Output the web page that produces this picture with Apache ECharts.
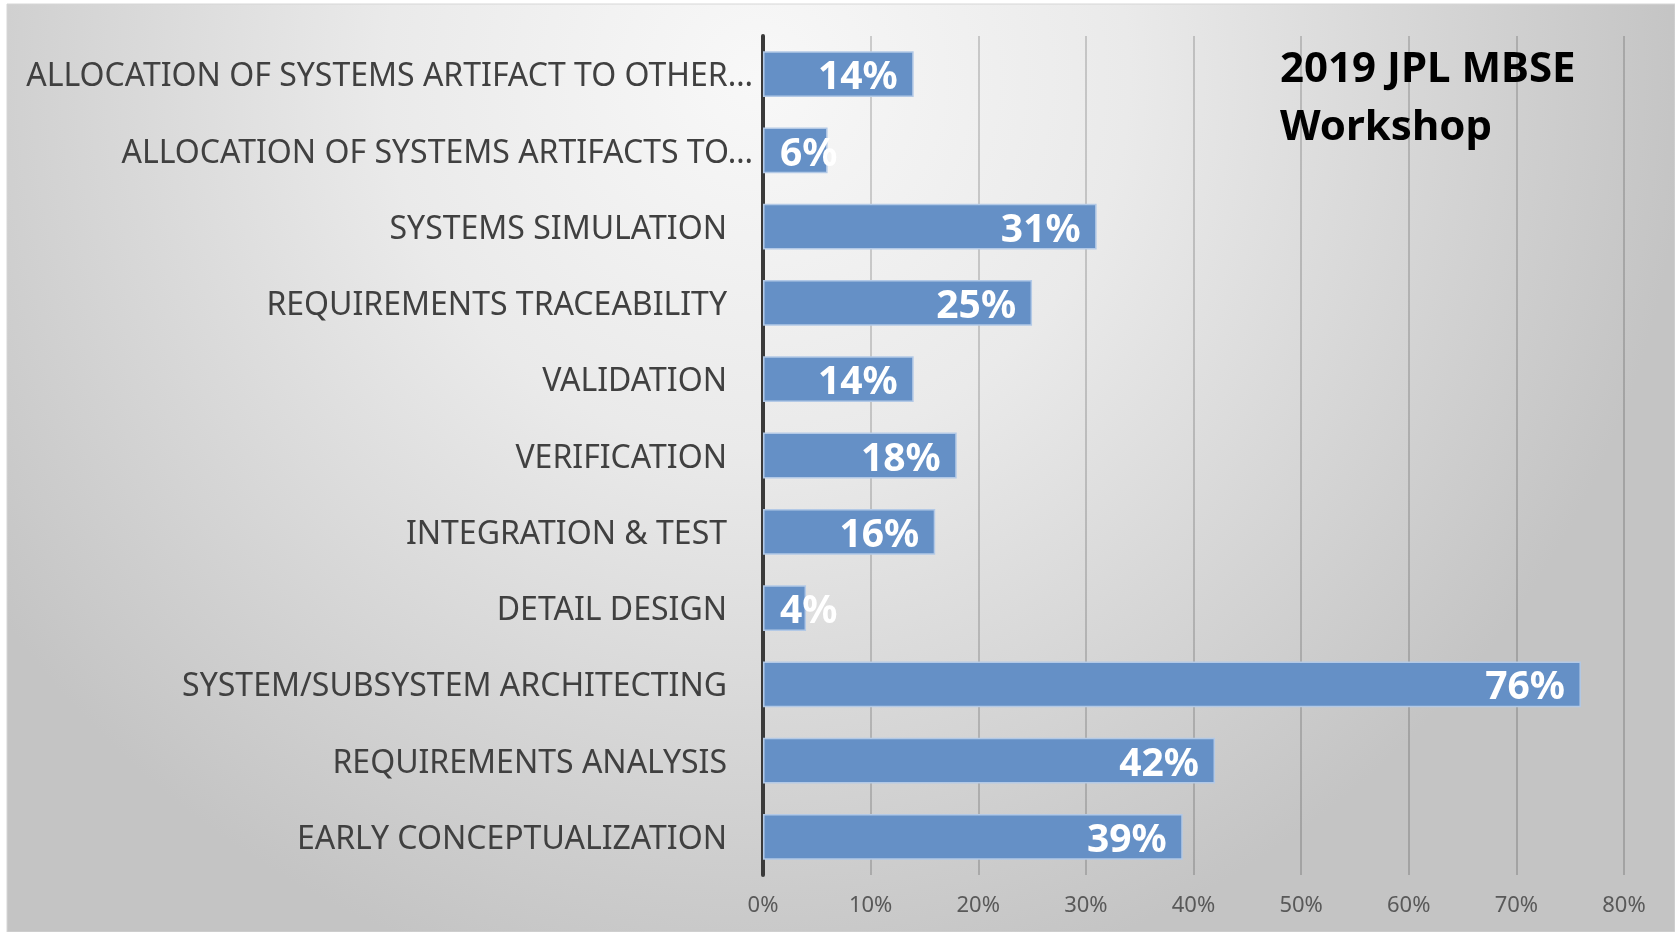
<!DOCTYPE html>
<html>
<head>
<meta charset="utf-8">
<script src="https://cdn.jsdelivr.net/npm/echarts@6/dist/echarts.min.js"></script>
<style>
  html, body { margin: 0; padding: 0; background: #ffffff; }
  #chart { width: 1675px; height: 932px; }
</style>
</head>
<body>
<div id="chart"></div>
<script>
const categories = [
  'ALLOCATION OF SYSTEMS ARTIFACT TO OTHER…',
  'ALLOCATION OF SYSTEMS ARTIFACTS TO…',
  'SYSTEMS SIMULATION',
  'REQUIREMENTS TRACEABILITY',
  'VALIDATION',
  'VERIFICATION',
  'INTEGRATION & TEST',
  'DETAIL DESIGN',
  'SYSTEM/SUBSYSTEM ARCHITECTING',
  'REQUIREMENTS ANALYSIS',
  'EARLY CONCEPTUALIZATION'
];
const values = [14, 6, 31, 25, 14, 18, 16, 4, 76, 42, 39];
const axisMin = 0, axisMax = 80, axisStep = 10;
const titleLines = ['2019 JPL MBSE', 'Workshop'];

const FONT = "'Noto Sans', sans-serif";

const chart = echarts.init(document.getElementById('chart'), null, { renderer: 'canvas' });

const seriesData = values.map(v => ({
  value: v,
  label: v < 10 ? { position: 'insideLeft', distance: 17 } : { position: 'insideRight', distance: 16 }
}));

chart.setOption({
  backgroundColor: '#ffffff',
  animation: false,
  graphic: [
    {
      type: 'rect', z: -10, silent: true,
      shape: { x: 7, y: 4, width: 1668, height: 928 },
      style: {
        fill: {
          type: 'radial', x: 0.45, y: 0.08, r: 1.0,
          colorStops: [
            { offset: 0, color: '#f8f8f8' },
            { offset: 0.4, color: '#eaeaea' },
            { offset: 1, color: '#c4c4c4' }
          ]
        },
        stroke: '#d6d6d6', lineWidth: 1
      }
    },
    {
      type: 'text', left: 1280, top: 41, z: 10, silent: true,
      style: {
        text: titleLines.join('\n'),
        fill: '#000000',
        font: "bold 42px " + FONT,
        lineHeight: 58
      }
    }
  ],
  grid: { left: 763, right: 51, top: 36, bottom: 57, containLabel: false },
  xAxis: {
    type: 'value', min: axisMin, max: axisMax, interval: axisStep,
    axisLine: { show: false },
    axisTick: { show: false },
    splitLine: { show: true, lineStyle: { color: 'rgba(0,0,0,0.22)', width: 1.5 } },
    axisLabel: {
      formatter: '{value}%', color: '#595959', fontSize: 22,
      fontFamily: FONT, margin: 20
    }
  },
  yAxis: {
    type: 'category', data: categories, inverse: true,
    axisLine: { show: true, lineStyle: { color: '#3a3a3a', width: 4 } },
    axisTick: { show: false },
    axisLabel: {
      margin: 10,
      formatter: v => v.endsWith('…') ? '{t|' + v + '}' : '{n|' + v + '}',
      rich: {
        t: { color: '#404040', fontSize: 32, fontFamily: FONT, padding: [6, 0, 0, 0] },
        n: { color: '#404040', fontSize: 32, fontFamily: FONT, padding: [6, 26, 0, 0] }
      }
    }
  },
  series: [{
    type: 'bar',
    data: seriesData,
    barCategoryGap: '40%',
    itemStyle: { color: '#6590c6', borderColor: '#b3c9e6', borderWidth: 1.5 },
    label: {
      show: true, formatter: '{c}%', color: '#ffffff',
      fontSize: 39, fontWeight: 'bold', fontFamily: FONT,
      offset: [0, 4]
    },
    z: 3
  }]
});
</script>
</body>
</html>
